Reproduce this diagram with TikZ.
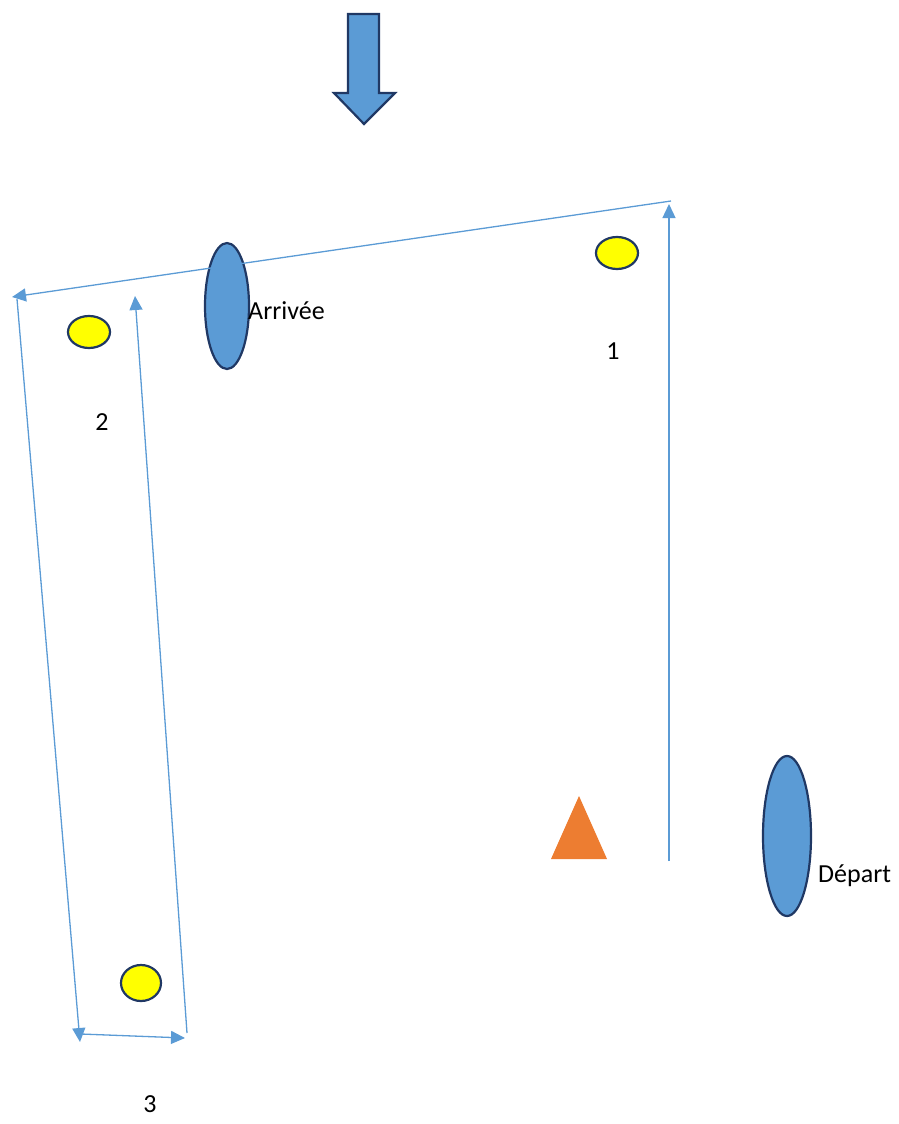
\documentclass[tikz,border=0pt]{standalone}
\usepackage{fontspec}
\setmainfont{Carlito}
\usetikzlibrary{arrows.meta,shapes.geometric}
\definecolor{myblue}{HTML}{5B9BD5}
\definecolor{outl}{HTML}{203864}
\definecolor{myorange}{HTML}{ED7D31}
\definecolor{myyellow}{HTML}{FFFF00}
\begin{document}
\begin{tikzpicture}[x=1pt,y=-1pt,
  conn/.style={draw=myblue, line width=1.3pt, -{Triangle[length=14pt,width=13pt]}},
  blueoval/.style={ellipse, draw=outl, fill=myblue, line width=2.2pt, inner sep=0pt},
  yoval/.style={ellipse, draw=outl, fill=myyellow, line width=2.2pt, inner sep=0pt},
  lbl/.style={font=\fontsize{26}{31}\selectfont, inner sep=0pt}]
\useasboundingbox (0,0) rectangle (898,1124);
% big arrow
\draw[fill=myblue, draw=outl, line width=2.2pt, line join=miter]
  (348,14) -- (379,14) -- (379,93) -- (395,93) -- (364,124) -- (334,93) -- (348,93) -- cycle;
% ellipses
\node[blueoval, minimum width=44, minimum height=126] (arr) at (227,306) {};
\node[blueoval, minimum width=48, minimum height=160] (dep) at (787,836) {};
\node[yoval, minimum width=42, minimum height=32] (y1) at (617,253) {};
\node[yoval, minimum width=42, minimum height=32] (y2) at (89,332) {};
\node[yoval, minimum width=40, minimum height=36] (y3) at (141,983) {};
% triangle
\fill[myorange] (551,859) -- (607,859) -- (579,796) -- cycle;
% path coordinates
\coordinate (p1s) at (669,861);
\coordinate (p1e) at (669,204);
\coordinate (p2s) at (671,201);
\coordinate (p2e) at (12,297);
\coordinate (p3s) at (17,299);
\coordinate (p3e) at (80,1042);
\coordinate (p4s) at (81,1034);
\coordinate (p4e) at (185,1038);
\coordinate (p5s) at (187,1033);
\coordinate (p5e) at (135,296);
\draw[conn] (p1s) -- (p1e);
\draw[conn] (p2s) -- (p2e);
\draw[conn] (p3s) -- (p3e);
\draw[conn] (p4s) -- (p4e);
\draw[conn] (p5s) -- (p5e);
% labels
\node[lbl, anchor=west] (tarr) at (248,311) {Arrivée};
\node[lbl, anchor=west] (tdep) at (818,876) {Départ};
\node[lbl] (t1) at (613,351) {1};
\node[lbl] (t2) at (102,422) {2};
\node[lbl] (t3) at (150,1104) {3};
\end{tikzpicture}
\end{document}
